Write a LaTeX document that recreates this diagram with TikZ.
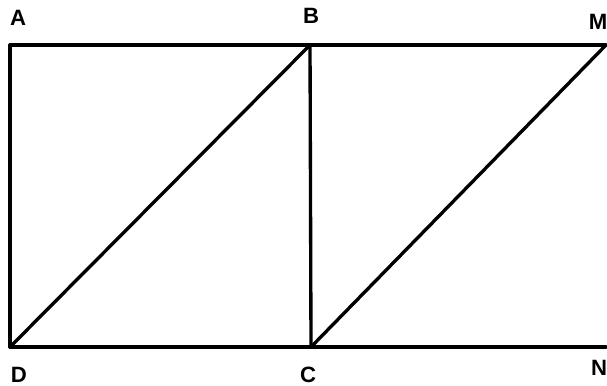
\documentclass[tikz,border=0pt]{standalone}
\usepackage{fontspec}
\setmainfont{Liberation Sans}
\usepackage{tikz}
\usetikzlibrary{positioning,calc}
\tikzset{
  edge/.style={draw=black, line width=0.95pt, line cap=round, line join=miter},
  lbl/.style={font=\fontsize{6.3}{7}\selectfont\bfseries, inner sep=0pt},
}

\begin{document}
\begin{tikzpicture}[x=0.01cm,y=-0.01cm]
  \useasboundingbox (0,0) rectangle (607,385);
  % corner points
  \coordinate (A) at (10,45);
  \coordinate (B) at (310,45);
  \coordinate (M) at (606,45);
  \coordinate (D) at (10,347);
  \coordinate (C) at (311,347);
  \coordinate (N) at (606,347);
  % labels
  \node[lbl] (lA) at (18,18) {A};
  \node[lbl] (lB) at (311,16) {B};
  \node[lbl] (lM) at (598,22) {M};
  \node[lbl] (lD) at (19,375) {D};
  \node[lbl] (lC) at (308,375) {C};
  \node[lbl] (lN) at (599,368) {N};
  % lines
  \draw[edge] (A) -- (M);
  \draw[edge] (D) -- (N);
  \draw[edge] (A) -- (D);
  \draw[edge] (B) -- (C);
  \draw[edge] (D) -- (B);
  \draw[edge] (C) -- (M);
\end{tikzpicture}
\end{document}
